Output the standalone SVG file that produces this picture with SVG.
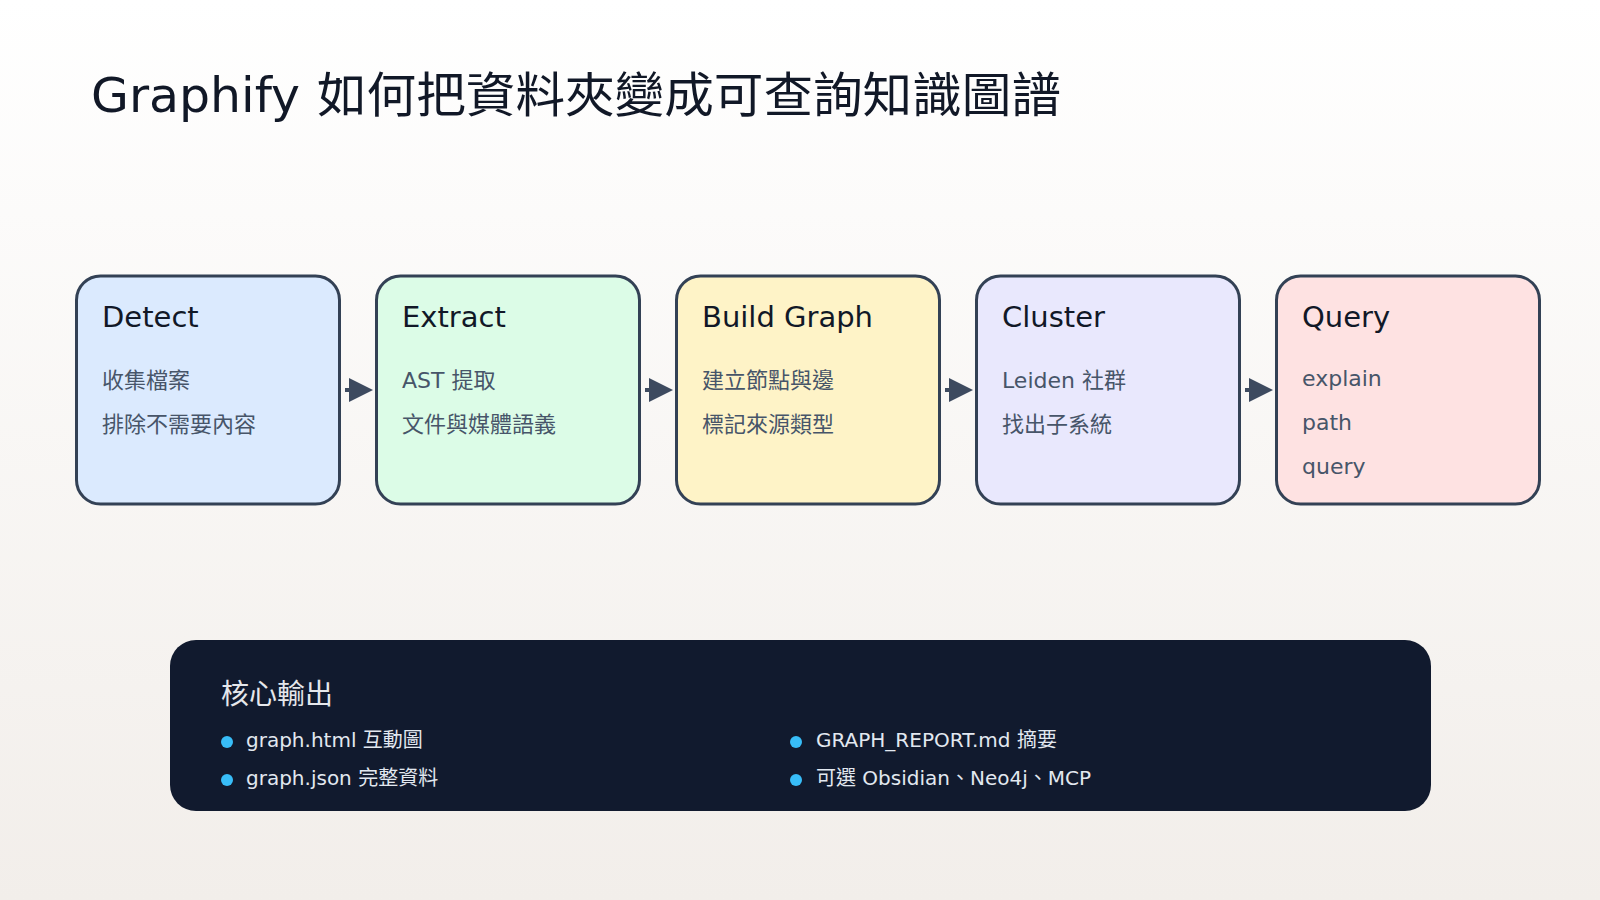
<svg xmlns="http://www.w3.org/2000/svg" width="1600" height="900" viewBox="0 0 1600 900">
<defs>
<linearGradient id="bg" x1="0" y1="0" x2="0" y2="1">
<stop offset="0" stop-color="#ffffff"/>
<stop offset="1" stop-color="#f2eeea"/>
</linearGradient>
<marker id="ah" markerWidth="6" markerHeight="6" refX="0" refY="3" orient="auto" markerUnits="strokeWidth">
<path d="M0,0 L6,3 L0,6 Z" fill="#3d4a5f"/>
</marker>
<style>
.box{stroke:#334155;stroke-width:3}
.ttl{font-family:"DejaVu Sans","Noto Sans CJK TC",sans-serif;font-size:29px;fill:#111827}
.sub{font-family:"DejaVu Sans","Noto Sans CJK TC",sans-serif;font-size:22px;fill:#475569}
.conn{stroke:#3d4a5f;stroke-width:4;fill:none}
.pt{font-family:"DejaVu Sans","Noto Sans CJK TC",sans-serif;font-size:20px;fill:#e2e8f0}
.dot{fill:#38bdf8}
</style>
</defs>
<rect width="1600" height="900" fill="url(#bg)"/>
<text y="112" font-family="DejaVu Sans, 'Noto Sans CJK TC', sans-serif" font-size="48" fill="#111827"><tspan x="91" textLength="209" lengthAdjust="spacingAndGlyphs">Graphify</tspan><tspan x="317" textLength="744" lengthAdjust="spacingAndGlyphs" font-family="'Noto Sans CJK TC', sans-serif">如何把資料夾變成可查詢知識圖譜</tspan></text>

<g id="connectors">
<line class="conn" x1="345" y1="390" x2="349" y2="390" marker-end="url(#ah)"/>
<line class="conn" x1="645" y1="390" x2="649" y2="390" marker-end="url(#ah)"/>
<line class="conn" x1="945" y1="390" x2="949" y2="390" marker-end="url(#ah)"/>
<line class="conn" x1="1245" y1="390" x2="1249" y2="390" marker-end="url(#ah)"/>
</g>

<g id="detect">
<rect class="box" x="76.5" y="276" width="263" height="228" rx="24" fill="#dbeafe"/>
<text class="ttl" x="102" y="327">Detect</text>
<text class="sub" x="102" y="388">收集檔案</text>
<text class="sub" x="102" y="432">排除不需要內容</text>
</g>
<g id="extract">
<rect class="box" x="376.5" y="276" width="263" height="228" rx="24" fill="#dcfce7"/>
<text class="ttl" x="402" y="327">Extract</text>
<text class="sub" x="402" y="388">AST 提取</text>
<text class="sub" x="402" y="432">文件與媒體語義</text>
</g>
<g id="build">
<rect class="box" x="676.5" y="276" width="263" height="228" rx="24" fill="#fef3c7"/>
<text class="ttl" x="702" y="327">Build Graph</text>
<text class="sub" x="702" y="388">建立節點與邊</text>
<text class="sub" x="702" y="432">標記來源類型</text>
</g>
<g id="cluster">
<rect class="box" x="976.5" y="276" width="263" height="228" rx="24" fill="#e9e8fd"/>
<text class="ttl" x="1002" y="327">Cluster</text>
<text class="sub" x="1002" y="388">Leiden 社群</text>
<text class="sub" x="1002" y="432">找出子系統</text>
</g>
<g id="query">
<rect class="box" x="1276.5" y="276" width="263" height="228" rx="24" fill="#fee2e2"/>
<text class="ttl" x="1302" y="327">Query</text>
<text class="sub" x="1302" y="386">explain</text>
<text class="sub" x="1302" y="430">path</text>
<text class="sub" x="1302" y="474">query</text>
</g>

<g id="outputs">
<rect x="170" y="640" width="1261" height="171" rx="26" fill="#111a2e"/>
<text x="221" y="704" font-family="'Noto Sans CJK TC', sans-serif" font-size="28" fill="#e5e7eb">核心輸出</text>
<circle class="dot" cx="227" cy="742" r="6"/>
<text class="pt" x="246" y="747">graph.html 互動圖</text>
<circle class="dot" cx="227" cy="780" r="6"/>
<text class="pt" x="246" y="785">graph.json 完整資料</text>
<circle class="dot" cx="796" cy="742" r="6"/>
<text class="pt" x="816" y="747">GRAPH_REPORT.md 摘要</text>
<circle class="dot" cx="796" cy="780" r="6"/>
<text class="pt" x="816" y="785">可選 Obsidian、Neo4j、MCP</text>
</g>
</svg>
